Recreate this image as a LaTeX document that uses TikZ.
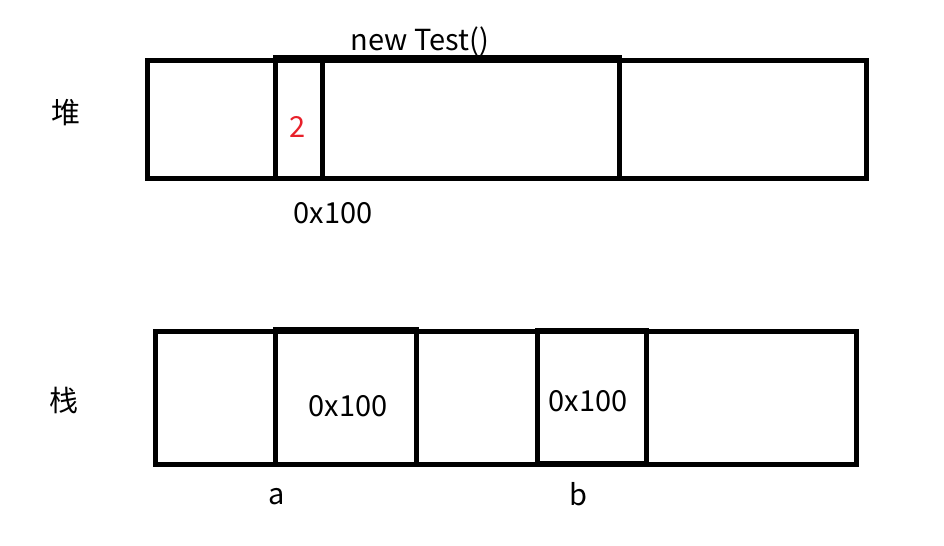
\documentclass[tikz,border=0pt]{standalone}
\usepackage{fontspec}
\setmainfont{Noto Sans CJK SC}
\usetikzlibrary{positioning}
\definecolor{ValRed}{HTML}{E8202A}
\tikzset{
  cell/.style={line width=0.1cm},
  lbl/.style={font=\fontsize{16.5}{19}\selectfont,inner sep=0pt}
}
\begin{document}
\begin{tikzpicture}[x=0.02cm,y=-0.02cm]
\useasboundingbox (0,0) rectangle (944,545);
% heap
\node[lbl] (heap) at (66,113) {堆};
\draw[cell] (147,60) rectangle (866,178);
\draw[cell] (275,57) rectangle (619,178);
\draw[cell] (322,57) -- (322,178);
\node[lbl] (obj) at (420,41) {new Test()};
\node[lbl,ValRed] (val) at (298,127) {2};
\node[lbl] (addr) at (333,213) {0x100};
% stack
\node[lbl] (stack) at (64,400) {栈};
\draw[cell] (155,331) rectangle (856,464);
\draw[cell] (275,329) rectangle (416,464);
\draw[cell] (537,330) rectangle (646,463);
\node[lbl] (refa) at (348,406) {0x100};
\node[lbl] (refb) at (588,401) {0x100};
\node[lbl] (vara) at (277,497) {a};
\node[lbl] (varb) at (578,494) {b};
\end{tikzpicture}
\end{document}
